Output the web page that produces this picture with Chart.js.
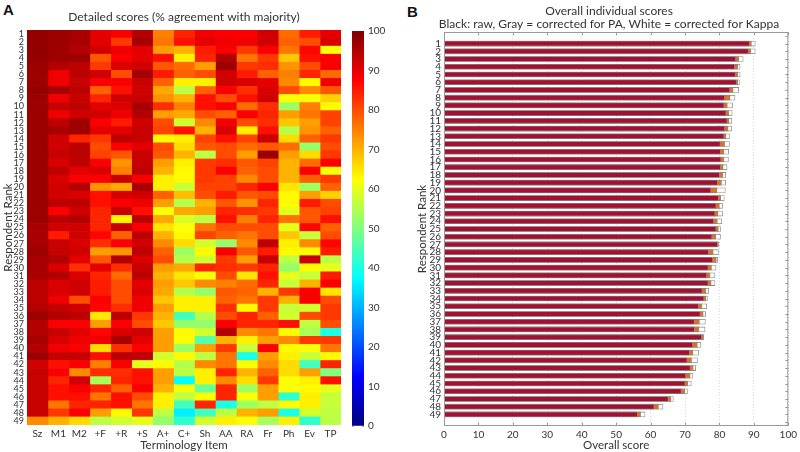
<!DOCTYPE html>
<html>
<head>
<meta charset="utf-8">
<script src="https://cdn.jsdelivr.net/npm/chart.js@4.4.0/dist/chart.umd.min.js"></script>
<style>
  html, body { margin: 0; padding: 0; background: #fff; }
  .wrap { position: relative; width: 800px; height: 452px; overflow: hidden; }
  canvas { position: absolute; top: 0; }
  .tag { position: absolute; top: 1px; font: bold 15px "Liberation Sans", Arial, sans-serif; color: #111; }
</style>
</head>
<body>
<div class="wrap">
  <div class="tag" style="left:3px">A</div>
  <div class="tag" style="left:407px;top:3px">B</div>
  <canvas id="heatChart" width="345" height="452" style="left:0"></canvas>
  <canvas id="barChart" width="55" height="452" style="left:345px"></canvas>
  <canvas id="scoreChart" width="400" height="452" style="left:400px"></canvas>
</div>
<script>
// terminology items (heatmap columns)
const items = ['Sz', 'M1', 'M2', '+F', '+R', '+S', 'A+', 'C+', 'Sh', 'AA', 'RA', 'Fr', 'Ph', 'Ev', 'TP'];

// % agreement with majority, one row per respondent (rank 1..49), columns as items
const detailRows = [
  [98, 97, 96, 90, 88, 95, 75, 84, 89, 88, 88, 92, 77, 85, 90],
  [98, 97, 96, 90, 82, 96, 76, 86, 90, 89, 89, 92, 78, 80, 91],
  [98, 97, 95, 92, 89, 90, 72, 70, 85, 88, 82, 88, 76, 87, 62],
  [98, 97, 97, 79, 88, 90, 86, 64, 84, 95, 76, 82, 68, 86, 88],
  [97, 95, 94, 82, 91, 92, 79, 77, 72, 97, 82, 83, 73, 80, 88],
  [97, 89, 94, 92, 80, 96, 85, 78, 80, 92, 85, 78, 75, 84, 77],
  [97, 89, 93, 88, 88, 93, 78, 64, 64, 92, 91, 90, 74, 63, 89],
  [98, 96, 94, 78, 86, 92, 71, 56, 78, 88, 83, 91, 80, 74, 79],
  [97, 89, 93, 84, 92, 93, 73, 70, 86, 80, 86, 92, 62, 62, 67],
  [97, 93, 94, 90, 91, 96, 83, 75, 86, 88, 77, 83, 53, 75, 63],
  [97, 89, 92, 92, 89, 95, 72, 71, 80, 78, 88, 84, 72, 76, 81],
  [97, 94, 97, 88, 85, 92, 80, 58, 74, 89, 80, 83, 68, 72, 81],
  [97, 96, 97, 90, 90, 93, 81, 86, 70, 91, 64, 86, 55, 73, 78],
  [97, 92, 84, 82, 94, 93, 63, 64, 81, 86, 81, 93, 66, 78, 82],
  [97, 92, 94, 80, 88, 90, 80, 66, 79, 80, 77, 79, 77, 52, 80],
  [97, 93, 94, 81, 79, 93, 79, 70, 56, 80, 72, 97, 72, 66, 82],
  [97, 91, 94, 88, 73, 93, 72, 64, 82, 83, 79, 81, 70, 77, 88],
  [97, 94, 90, 91, 75, 94, 70, 63, 82, 88, 78, 80, 70, 88, 62],
  [97, 91, 88, 88, 93, 88, 64, 63, 82, 81, 74, 80, 70, 78, 82],
  [97, 92, 95, 73, 71, 96, 64, 57, 81, 81, 84, 88, 65, 53, 78],
  [97, 92, 91, 86, 91, 92, 78, 69, 80, 85, 79, 80, 63, 72, 67],
  [97, 94, 94, 86, 88, 89, 72, 55, 70, 79, 73, 84, 63, 85, 80],
  [97, 88, 92, 84, 93, 86, 62, 71, 72, 84, 83, 82, 60, 79, 81],
  [97, 94, 95, 84, 64, 94, 71, 59, 56, 86, 75, 84, 76, 79, 86],
  [96, 92, 92, 84, 93, 88, 65, 62, 76, 80, 80, 80, 60, 87, 78],
  [96, 85, 92, 87, 78, 94, 70, 63, 81, 78, 76, 80, 68, 57, 80],
  [96, 93, 91, 83, 88, 92, 74, 66, 58, 52, 74, 94, 64, 74, 87],
  [97, 93, 92, 72, 73, 94, 78, 53, 63, 88, 79, 85, 63, 63, 85],
  [96, 95, 90, 79, 95, 91, 80, 55, 58, 82, 72, 93, 56, 93, 56],
  [96, 91, 83, 90, 83, 93, 72, 71, 84, 83, 82, 84, 52, 63, 60],
  [96, 95, 91, 84, 77, 94, 70, 65, 62, 80, 65, 86, 60, 57, 85],
  [94, 91, 92, 85, 80, 90, 72, 68, 74, 75, 77, 84, 57, 70, 88],
  [94, 91, 92, 85, 80, 91, 71, 55, 52, 79, 78, 70, 82, 88, 65],
  [94, 89, 80, 88, 80, 89, 68, 64, 64, 78, 76, 82, 70, 88, 80],
  [95, 93, 92, 87, 83, 89, 72, 64, 64, 83, 63, 82, 57, 58, 82],
  [97, 95, 94, 65, 94, 82, 70, 44, 55, 80, 84, 78, 58, 80, 82],
  [95, 88, 88, 72, 88, 80, 68, 52, 52, 88, 84, 84, 86, 56, 80],
  [95, 93, 90, 87, 91, 92, 72, 63, 58, 95, 74, 76, 63, 54, 40],
  [96, 91, 89, 89, 96, 90, 72, 62, 46, 70, 64, 72, 74, 82, 82],
  [95, 89, 88, 66, 83, 88, 72, 53, 72, 82, 57, 88, 63, 62, 76],
  [97, 93, 93, 86, 94, 94, 58, 63, 56, 76, 40, 72, 64, 57, 63],
  [92, 86, 88, 75, 88, 60, 63, 55, 74, 76, 62, 74, 66, 44, 84],
  [93, 88, 74, 83, 83, 86, 72, 56, 64, 84, 70, 78, 66, 72, 50],
  [93, 84, 92, 54, 84, 86, 72, 38, 64, 74, 66, 82, 62, 64, 86],
  [93, 86, 88, 84, 78, 88, 70, 62, 48, 84, 53, 72, 62, 63, 60],
  [93, 86, 86, 76, 86, 80, 64, 56, 62, 84, 62, 72, 42, 64, 57],
  [93, 76, 84, 84, 86, 76, 64, 44, 84, 40, 53, 56, 62, 64, 57],
  [93, 82, 88, 72, 63, 82, 56, 36, 44, 56, 70, 72, 40, 58, 56],
  [74, 70, 66, 56, 58, 60, 52, 42, 58, 64, 62, 54, 64, 42, 56]
];

// overall individual scores per respondent rank
const rawScore = [88.7, 88.4, 84.7, 84.4, 84.6, 84.9, 83.0, 81.5, 81.3, 81.9, 82.2, 81.5, 81.3, 80.2, 80.3, 80.4, 80.3,
  80.0, 79.4, 77.5, 79.7, 79.0, 78.7, 78.3, 79.0, 77.8, 79.4, 76.8, 78.0, 76.7, 76.3, 76.7, 75.0, 75.5, 73.9,
  74.4, 72.7, 72.7, 74.8, 72.2, 71.3, 70.6, 71.5, 70.2, 70.0, 68.9, 65.1, 61.0, 56.2];
const paScore = [89.3, 89.1, 85.6, 85.3, 85.3, 85.3, 84.0, 83.1, 82.3, 82.7, 82.8, 82.5, 81.9, 81.5, 81.3, 81.3, 81.1,
  81.0, 80.6, 79.3, 80.4, 80.0, 79.6, 79.4, 79.7, 78.9, 79.7, 78.2, 79.1, 77.7, 77.3, 77.6, 76.0, 76.1, 74.9,
  75.3, 74.2, 74.0, 75.3, 73.6, 72.3, 71.9, 72.4, 71.5, 70.8, 69.9, 65.9, 62.3, 57.1];
const kappaScore = [90.4, 90.4, 86.9, 86.0, 86.0, 85.8, 85.6, 84.5, 83.8, 83.7, 83.6, 83.6, 82.9, 82.9, 82.7, 82.6, 82.2,
  81.8, 81.8, 81.7, 81.4, 80.9, 80.9, 80.7, 80.4, 80.3, 79.9, 79.7, 79.5, 79.0, 78.7, 78.7, 76.9, 76.5, 76.3,
  76.0, 75.9, 75.8, 75.4, 74.6, 74.0, 73.6, 73.1, 72.3, 71.8, 70.7, 66.6, 63.6, 58.4];

const rankLabels = detailRows.map((r, i) => String(i + 1));
const FONT = 'Lato, "Noto Sans", sans-serif';
const TEXT = '#333';

// matlab style jet colour map
function jet(v) {
  const t = v / 100;
  const c = x => Math.round(255 * Math.max(0, Math.min(1, x)));
  const r = c(Math.min(4 * t - 1.5, -4 * t + 4.5));
  const g = c(Math.min(4 * t - 0.5, -4 * t + 3.5));
  const b = c(Math.min(4 * t + 0.5, -4 * t + 2.5));
  return `rgb(${r},${g},${b})`;
}

Chart.defaults.font.family = FONT;
Chart.defaults.color = TEXT;
Chart.defaults.animation = false;

// Heatmap: one stacked horizontal bar per respondent, one segment per item
new Chart(document.getElementById('heatChart'), {
  type: 'bar',
  data: {
    labels: rankLabels,
    datasets: items.map((item, j) => ({
      label: item,
      data: detailRows.map(() => 1),
      backgroundColor: detailRows.map(row => jet(row[j])),
      borderWidth: 0,
      barPercentage: 1,
      categoryPercentage: 1
    }))
  },
  options: {
    indexAxis: 'y',
    responsive: false,
    layout: { padding: { top: 0, right: 4, left: 0, bottom: 0 } },
    scales: {
      x: {
        type: 'linear', stacked: true, min: 0, max: 15,
        afterBuildTicks: scale => { scale.ticks = items.map((_, i) => ({ value: i + 0.5 })); },
        afterFit: scale => { scale.height = 27; },
        ticks: { autoSkip: false, maxRotation: 0, padding: 3, font: { size: 10 }, callback: (v, i) => items[i] },
        grid: { display: false, drawTicks: false },
        border: { display: false },
        title: { display: true, text: 'Terminology Item', font: { size: 11.5 }, padding: 0 }
      },
      y: {
        stacked: true,
        afterFit: scale => { scale.width = 27; },
        ticks: { autoSkip: false, padding: 3, font: { size: 9 } },
        grid: { display: false, drawTicks: false },
        border: { display: false },
        title: { display: true, text: 'Respondent Rank', font: { size: 11.5 }, padding: { top: 1, bottom: 0 } }
      }
    },
    plugins: {
      legend: { display: false },
      tooltip: { enabled: false },
      title: {
        display: true, fullSize: false, text: 'Detailed scores (% agreement with majority)',
        font: { size: 12, weight: 'normal' }, color: TEXT, padding: { top: 10, bottom: 5.6 }
      }
    }
  }
});

// Colour bar for the heatmap
new Chart(document.getElementById('barChart'), {
  type: 'bar',
  data: {
    labels: ['scale'],
    datasets: [{
      data: [[0, 100]],
      borderWidth: 0,
      barPercentage: 1,
      categoryPercentage: 1,
      backgroundColor: ctx => {
        const area = ctx.chart.chartArea;
        if (!area) return null;
        const g = ctx.chart.ctx.createLinearGradient(0, area.bottom, 0, area.top);
        [0, 0.125, 0.375, 0.625, 0.875, 1].forEach(s => g.addColorStop(s, jet(s * 100)));
        return g;
      }
    }]
  },
  options: {
    responsive: false,
    layout: { padding: { top: 31, left: 7, bottom: 26, right: 0 } },
    scales: {
      x: { display: false },
      y: {
        position: 'right', min: 0, max: 100, z: 1,
        afterFit: scale => { scale.width = 36; },
        ticks: { stepSize: 10, padding: 4, font: { size: 10 } },
        grid: { color: 'rgba(0,0,0,0.35)', drawTicks: false },
        border: { display: false, dash: [2, 8, 2] }
      }
    },
    plugins: { legend: { display: false }, tooltip: { enabled: false } }
  }
});

// box round the plot area with inward ticks on the top and right
const framePlugin = {
  id: 'frame',
  afterDraw(chart) {
    const { ctx, chartArea: a, scales } = chart;
    ctx.save();
    ctx.strokeStyle = '#999';
    ctx.lineWidth = 1;
    ctx.strokeRect(a.left + 0.5, a.top + 0.5, a.width - 1, a.height - 1);
    ctx.beginPath();
    scales.x.ticks.forEach(t => {
      const px = Math.round(scales.x.getPixelForValue(t.value)) + 0.5;
      ctx.moveTo(px, a.top); ctx.lineTo(px, a.top + 3);
      ctx.moveTo(px, a.bottom); ctx.lineTo(px, a.bottom - 3);
    });
    scales.y.ticks.forEach(t => {
      const py = Math.round(scales.y.getPixelForValue(t.value)) + 0.5;
      ctx.moveTo(a.right, py); ctx.lineTo(a.right - 3, py);
    });
    ctx.stroke();
    ctx.restore();
  }
};

const barSet = (label, values, color) => ({
  label,
  data: values.map((v, i) => ({ x: v, y: i + 1 })),
  backgroundColor: color,
  borderColor: '#888',
  borderWidth: 0.8,
  borderSkipped: false,
  barThickness: 5,
  grouped: false
});

new Chart(document.getElementById('scoreChart'), {
  type: 'bar',
  data: {
    datasets: [
      barSet('raw', rawScore, '#a50f30'),
      barSet('PA', paScore, '#e0701c'),
      barSet('Kappa', kappaScore, '#ffffff')
    ]
  },
  options: {
    indexAxis: 'y',
    responsive: false,
    // wider left padding so the full-width title sits where the original has it
    layout: { padding: { top: 0, right: 9, left: 27, bottom: 0 } },
    scales: {
      x: {
        type: 'linear', min: 0, max: 100,
        afterFit: scale => { scale.height = 26; },
        ticks: { stepSize: 10, padding: 3, font: { size: 10 } },
        grid: { color: '#d8d8d8', drawTicks: false },
        border: { display: false, dash: [1, 2] },
        title: { display: true, text: 'Overall score', font: { size: 11.5 }, padding: 0 }
      },
      y: {
        type: 'linear', min: 0, max: 50, reverse: true,
        afterFit: scale => { scale.width = 17; },
        ticks: { stepSize: 1, autoSkip: false, padding: 3, font: { size: 10 },
          callback: v => (v >= 1 && v <= 49 ? v : '') },
        grid: { display: false, drawTicks: false },
        border: { display: false },
        title: { display: true, text: 'Respondent Rank', font: { size: 11.5 }, padding: { top: -12, bottom: 0 } }
      }
    },
    plugins: {
      legend: { display: false },
      tooltip: { enabled: false },
      title: {
        display: true,
        text: ['Overall individual scores', 'Black: raw, Gray = corrected for PA, White = corrected for Kappa'],
        font: { size: 12, weight: 'normal', lineHeight: 1.1 }, color: TEXT, padding: { top: 4.4, bottom: 1.2 }
      }
    }
  },
  plugins: [framePlugin]
});
</script>
</body>
</html>
